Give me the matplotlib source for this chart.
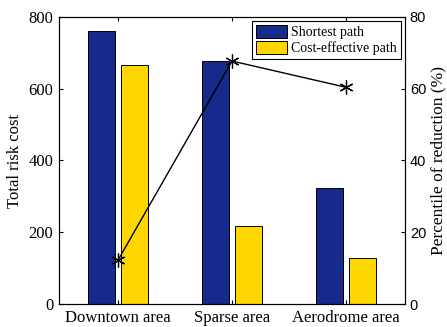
import numpy as np
import matplotlib
matplotlib.use("Agg")
import matplotlib.pyplot as plt

# data
areas = ["Downtown area", "Sparse area", "Aerodrome area"]
shortest = [760, 678, 322]
cost_effective = [666, 218, 127]
reduction = [12.3, 67.7, 60.4]

serif = "Liberation Serif"
sans = "Liberation Sans"

fig = plt.figure(figsize=(4.47, 3.27), dpi=100)
ax = fig.add_axes([0.132, 0.0703, 0.774, 0.878])

x = np.arange(1, len(areas) + 1)
w = 0.236
off = 0.146
b1 = ax.bar(x - off, shortest, w, color="#152A8A", edgecolor="black", linewidth=0.7, label="Shortest path")
b2 = ax.bar(x + off, cost_effective, w, color="#FFD700", edgecolor="black", linewidth=0.7, label="Cost-effective path")

ax.set_xlim(0.48, 3.52)
ax.set_ylim(0, 800)
ax.set_xticks(x)
ax.set_xticklabels(areas, fontfamily=serif, fontsize=12)
ax.set_yticks([0, 200, 400, 600, 800])
ax.set_yticklabels(["0", "200", "400", "600", "800"], fontfamily=serif, fontsize=12)
ax.set_ylabel("Total risk cost", fontfamily=serif, fontsize=12, labelpad=4)
ax.tick_params(direction="in", length=3, top=True, right=False, pad=4)

ax2 = ax.twinx()
ax2.plot(x, reduction, color="black", linewidth=1.0, marker=(6, 2, 0), markersize=10,
         markeredgewidth=0.9)
ax2.set_ylim(0, 80)
ax2.set_yticks([0, 20, 40, 60, 80])
ax2.set_yticklabels(["0", "20", "40", "60", "80"], fontfamily=sans, fontsize=10.5)
ax2.set_ylabel("Percentile of reduction (%)", fontfamily=serif, fontsize=12.5, labelpad=3)
ax2.tick_params(direction="in", length=3, pad=3.5)

leg = ax2.legend([b1, b2], ["Shortest path", "Cost-effective path"], loc="upper right",
                 prop={"family": serif, "size": 10}, fancybox=False,
                 edgecolor="black", framealpha=1, borderpad=0.3, handlelength=2.2,
                 handleheight=1.0, handletextpad=0.3, labelspacing=0.15,
                 borderaxespad=0, bbox_to_anchor=(0.988, 0.986))
leg.get_frame().set_linewidth(0.8)

fig.savefig("out.png", dpi=100)
